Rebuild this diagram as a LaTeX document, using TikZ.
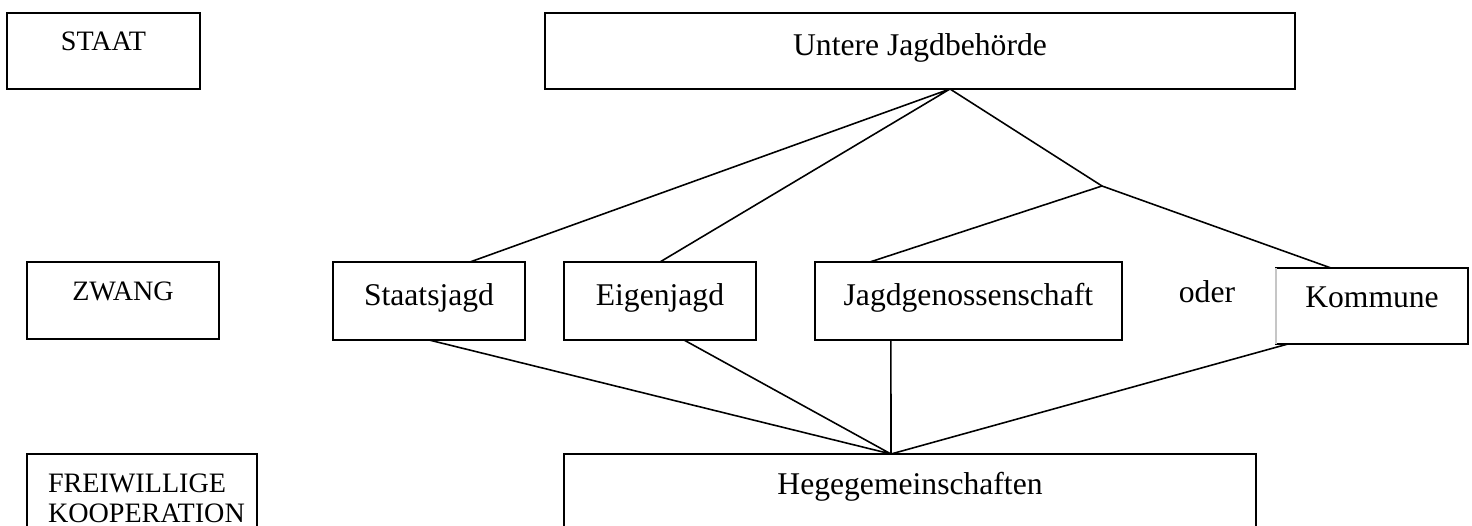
\documentclass[tikz,border=0pt]{standalone}
\usepackage{fontspec}
\setmainfont{Liberation Serif}
\usetikzlibrary{positioning}
\tikzset{
  cell/.style = {rectangle, draw, line width=1.1pt, inner sep=0pt, outer sep=0pt, minimum width=3.84cm, minimum height=1.56cm, font=\fontsize{18}{21}\selectfont, text depth=7.7pt},
  side/.style = {rectangle, draw, line width=1.1pt, inner sep=0pt, outer sep=0pt, minimum width=3.84cm, minimum height=1.54cm, font=\fontsize{16}{17.1}\selectfont, text depth=11pt},
  link/.style = {line width=0.9pt, line join=round}
}
\begin{document}
\begin{tikzpicture}[x=0.02cm, y=-0.02cm]
\useasboundingbox (0,0) rectangle (1472,526);
\clip (0,0) rectangle (1472,526);

\node [side, minimum width=3.86cm, minimum height=1.52cm] (staat) at (103.5,51) {STAAT};
\node [cell, minimum width=15cm, minimum height=1.52cm] (behoerde) at (920,51) {Untere Jagdbehörde};

\node [side] (zwang) at (123,300.5) {ZWANG};
\node [cell] (staatsjagd) at (429,301) {Staatsjagd};
\node [cell, right=0.78cm of staatsjagd] (eigenjagd) {Eigenjagd};
\node [cell, minimum width=6.14cm, right=1.18cm of eigenjagd] (genossen) {Jagdgenossenschaft};
\node [font=\fontsize{18}{21}\selectfont, inner sep=0pt] (oder) at (1207,292) {oder};
\node [cell, minimum height=1.52cm, text depth=9.6pt] (kommune) at (1372,306) {Kommune};
\draw [gray!45, line width=1.1pt] (kommune.north west) -- (kommune.south west);

\node [side, align=left, text width=3.76cm, inner xsep=0.42cm, minimum width=4.6cm, minimum height=1.67cm, text depth=14.8pt] (freiwillig) at (142,495.7) {FREIWILLIGE\\KOOPERATION};
\node [cell, minimum width=13.84cm, minimum height=1.7cm, text depth=14.7pt] (hege) at (910,496.5) {Hegegemeinschaften};

\coordinate (apex) at ([xshift=0.6cm]behoerde.south);
\coordinate (fork) at (1102,186);
\coordinate (meet) at ([xshift=-0.38cm]hege.north);

\draw [link] ([xshift=0.82cm]staatsjagd.north) -- (apex) -- (eigenjagd.north);
\draw [link] (apex) -- (fork);
\draw [link] ([xshift=-1.97cm]genossen.north) -- (fork) -- ([xshift=-0.82cm]kommune.north);

\draw [link] (staatsjagd.south) -- (meet) -- ([xshift=0.48cm]eigenjagd.south);
\draw [link] ([xshift=-1.55cm]genossen.south) -- (meet) -- ([xshift=-1.68cm]kommune.south);

\end{tikzpicture}
\end{document}
